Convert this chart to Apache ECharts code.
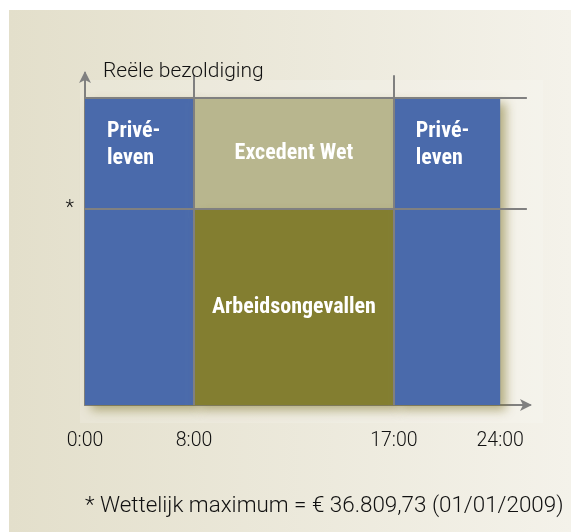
<!DOCTYPE html>
<html>
<head>
<meta charset="utf-8">
<script src="https://cdn.jsdelivr.net/npm/echarts@6/dist/echarts.min.js"></script>
<style>html,body{margin:0;padding:0;background:#fff}#c{width:571px;height:532px}</style>
</head>
<body>
<div id="c"></div>
<script>
// Schematic x positions (axis runs 0..100 up to the arrow tip)
const timeLabels = ['0:00', '8:00', '17:00', '24:00'];
const timePos = [0, 24.5, 69.4, 93.3];
// Schematic y levels (axis runs 0..100 up to the arrow tip)
const levelWettelijk = 59;
const levelReeel = 92.5;
// Blocks: [startTimeIdx, endTimeIdx, low, high, label, colour]
const blockStart = [0, 1, 1, 2];
const blockEnd = [1, 2, 2, 3];
const blockLow = [0, levelWettelijk, 0, 0];
const blockHigh = [levelReeel, levelReeel, levelWettelijk, levelReeel];
const blockLabels = ['Privé-\nleven', 'Excedent Wet', 'Arbeidsongevallen', 'Privé-\nleven'];
const blockColors = ['#4a6aab', '#b8b68e', '#837e30', '#4a6aab'];

const blockData = blockStart.map((s, i) => [timePos[s], timePos[blockEnd[i]], blockLow[i], blockHigh[i], i]);

const lineColor = '#808080';
const chart = echarts.init(document.getElementById('c'));
chart.setOption({
  backgroundColor: '#ffffff',
  animation: false,
  graphic: [
    { type: 'rect', z: -10, shape: { x: 9, y: 10, width: 562, height: 522 },
      style: { fill: new echarts.graphic.LinearGradient(0, 0, 1, 0, [
        { offset: 0, color: '#e3dfcb' }, { offset: 1, color: '#f4f2ea' }]) } },
    { type: 'rect', z: -9, shape: { x: 80, y: 80, width: 463, height: 343 },
      style: { fill: 'rgba(255,255,255,0.15)' } }
  ],
  title: [
    { text: 'Reële bezoldiging', left: 103, top: 61, padding: 0,
      textStyle: { fontFamily: 'Roboto', fontWeight: 300, fontSize: 21, color: '#111111' } },
    { text: '* Wettelijk maximum = € 36.809,73 (01/01/2009)', left: 85, top: 495, padding: 0,
      textStyle: { fontFamily: 'Roboto', fontWeight: 300, fontSize: 22.4, color: '#111111' } }
  ],
  grid: { left: 85, right: 41, top: 73, bottom: 127 },
  xAxis: {
    type: 'value', min: 0, max: 100,
    axisLine: { show: true, symbol: ['none', 'arrow'], symbolSize: [9, 12], symbolOffset: [0, 2],
      lineStyle: { color: lineColor, width: 2 } },
    axisTick: { show: false },
    splitLine: { show: false },
    axisLabel: {
      customValues: timePos, margin: 26,
      formatter: v => timeLabels[timePos.indexOf(v)] || '',
      fontFamily: 'Roboto', fontWeight: 300, fontSize: 19.5, color: '#111111'
    }
  },
  yAxis: {
    type: 'value', min: 0, max: 100,
    axisLine: { show: true, symbol: ['none', 'arrow'], symbolSize: [9, 12], symbolOffset: [0, 2],
      lineStyle: { color: lineColor, width: 2 } },
    axisTick: { show: false },
    splitLine: { show: false },
    axisLabel: {
      customValues: [levelWettelijk], margin: 11,
      formatter: () => '*',
      fontFamily: 'Roboto', fontWeight: 300, fontSize: 20, color: '#111111', padding: [0, 0, 8, 0]
    }
  },
  series: [
    {
      type: 'custom',
      data: blockData,
      z: 2,
      renderItem: function (params, api) {
        const p0 = api.coord([api.value(0), api.value(3)]);
        const p1 = api.coord([api.value(1), api.value(2)]);
        const i = api.value(4);
        const twoLine = blockLabels[i].indexOf('\n') >= 0;
        return {
          type: 'rect',
          shape: { x: p0[0], y: p0[1], width: p1[0] - p0[0], height: p1[1] - p0[1] },
          style: {
            fill: blockColors[i],
            shadowBlur: 10, shadowOffsetX: 6, shadowOffsetY: 5,
            shadowColor: 'rgba(125,115,40,0.55)'
          },
          textContent: {
            style: {
              text: blockLabels[i], fill: '#ffffff',
              fontFamily: "'Liberation Sans Narrow', 'Roboto Condensed', Roboto",
              fontWeight: 'bold', fontSize: 22, lineHeight: 27,
              align: twoLine ? 'left' : 'center'
            }
          },
          textConfig: twoLine ? { position: [22, 20] } : { position: 'inside' }
        };
      }
    },
    {
      type: 'line', data: [], z: 5, silent: true,
      markLine: {
        silent: true, symbol: 'none', label: { show: false },
        lineStyle: { color: lineColor, width: 2, type: 'solid' },
        data: [
          [{ coord: [0, levelReeel] }, { coord: [99.3, levelReeel] }],
          [{ coord: [0, levelWettelijk] }, { coord: [99.3, levelWettelijk] }],
          [{ coord: [timePos[1], 0] }, { coord: [timePos[1], 99.3] }],
          [{ coord: [timePos[2], 0] }, { coord: [timePos[2], 99.3] }]
        ]
      }
    }
  ]
});
</script>
</body>
</html>
